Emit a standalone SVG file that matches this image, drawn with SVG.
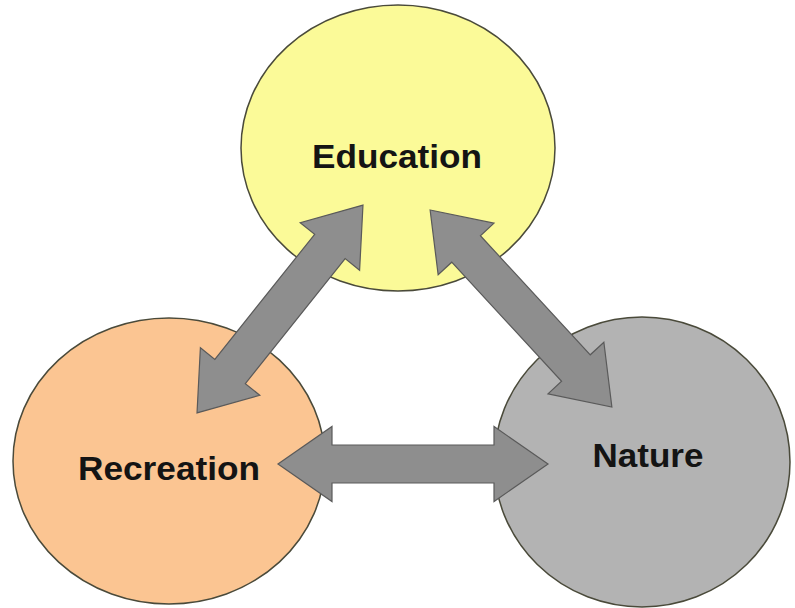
<svg xmlns="http://www.w3.org/2000/svg" width="795" height="608" viewBox="0 0 795 608">
  <style>
    .node { stroke: #4a4a3a; stroke-width: 1.5; }
    .label { font-family: "Liberation Sans", Arial, sans-serif; font-weight: bold; font-size: 33px; fill: #141414; text-anchor: middle; }
    .link { fill: #8e8e8e; stroke: #5a5a5a; stroke-width: 1.2; stroke-linejoin: miter; }
  </style>
  <rect width="795" height="608" fill="#ffffff"/>

  <g id="education">
    <ellipse class="node" cx="398" cy="148" rx="157" ry="143" fill="#fbfa98"/>
  </g>
  <g id="recreation">
    <ellipse class="node" cx="169" cy="461" rx="156" ry="143" fill="#fbc592"/>
  </g>
  <g id="nature">
    <ellipse class="node" cx="642" cy="462" rx="148" ry="145" fill="#b3b3b3"/>
  </g>

  <!-- double-headed block arrows between the three circles -->
  <g id="connectors">
    <path class="link" transform="translate(280,309) rotate(-51.4)"
          d="M -133,0 L -80,-38 L -80,-19.5 L 80,-19.5 L 80,-38 L 133,0 L 80,38 L 80,19.5 L -80,19.5 L -80,38 Z"/>
    <path class="link" transform="translate(521,308.5) rotate(47.3)"
          d="M -134,0 L -81,-38 L -81,-19.5 L 81,-19.5 L 81,-38 L 134,0 L 81,38 L 81,19.5 L -81,19.5 L -81,38 Z"/>
    <path class="link" transform="translate(413,464)"
          d="M -135,0 L -81,-37.5 L -81,-19 L 81,-19 L 81,-37.5 L 135,0 L 81,37.5 L 81,19 L -81,19 L -81,37.5 Z"/>
  </g>

  <g id="labels">
    <text class="label" x="397" y="168" textLength="170" lengthAdjust="spacingAndGlyphs">Education</text>
    <text class="label" x="169" y="480" textLength="182" lengthAdjust="spacingAndGlyphs">Recreation</text>
    <text class="label" x="648" y="467" textLength="111" lengthAdjust="spacingAndGlyphs">Nature</text>
  </g>
</svg>
